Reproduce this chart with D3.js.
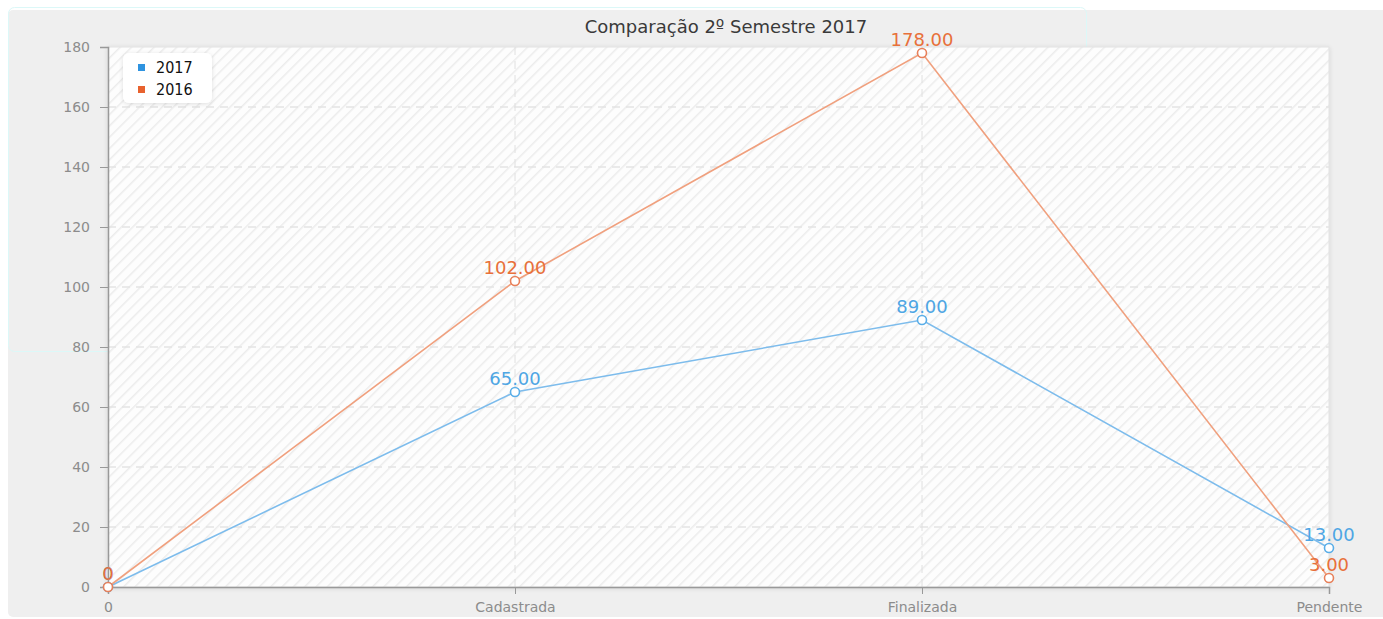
<!DOCTYPE html>
<html>
<head>
<meta charset="utf-8">
<script src="https://cdn.jsdelivr.net/npm/d3@7"></script>
<style>
  body { margin: 0; background: #fff; }
  text { font-family: "DejaVu Sans", sans-serif; }
</style>
</head>
<body>
<div id="chart"></div>
<script>
const categories = ['0', 'Cadastrada', 'Finalizada', 'Pendente'];
const values2017 = [0, 65, 89, 13];
const values2016 = [0, 102, 178, 3];
const yTicks = [0, 20, 40, 60, 80, 100, 120, 140, 160, 180];
const seriesNames = ['2017', '2016'];

const svgWidth = 1383, svgHeight = 619;
const margin = {top: 47, right: 54, bottom: 32, left: 108};
const width = svgWidth - margin.left - margin.right,
      height = svgHeight - margin.top - margin.bottom;

const series = [
  {name: seriesNames[0], values: values2017, line: '#7dbcec', dot: '#5aaee8', label: '#4ea6e4', legend: '#2e93e0'},
  {name: seriesNames[1], values: values2016, line: '#f0a07e', dot: '#e8805a', label: '#e8703a', legend: '#e8622e'}
];

const svg = d3.select('#chart').append('svg')
    .attr('width', svgWidth)
    .attr('height', svgHeight);

const defs = svg.append('defs');
const hatch = defs.append('pattern')
    .attr('id', 'hatch')
    .attr('patternUnits', 'userSpaceOnUse')
    .attr('width', 8).attr('height', 8)
    .attr('patternTransform', 'rotate(45)');
hatch.append('rect').attr('width', 8).attr('height', 8).attr('fill', '#fdfdfd');
hatch.append('line').attr('x1', 0).attr('y1', 0).attr('x2', 0).attr('y2', 8)
    .attr('stroke', '#ececec').attr('stroke-width', 3);

const shadow = defs.append('filter').attr('id', 'shadow')
    .attr('x', '-20%').attr('y', '-20%').attr('width', '140%').attr('height', '140%');
shadow.append('feDropShadow').attr('dx', 0).attr('dy', 1).attr('stdDeviation', 2)
    .attr('flood-color', '#000').attr('flood-opacity', 0.12);

// background panels
svg.append('rect')
    .attr('x', 8).attr('y', 10).attr('width', svgWidth).attr('height', 607)
    .attr('rx', 5).attr('fill', '#efefef');
svg.append('rect')
    .attr('x', 8.5).attr('y', 7.5).attr('width', 1078).attr('height', 344)
    .attr('rx', 6).attr('fill', 'none').attr('stroke', '#dcf8f8');

const g = svg.append('g')
    .attr('transform', `translate(${margin.left}, ${margin.top})`);

const xScale = d3.scalePoint().domain(categories).range([0, width]);
const yScale = d3.scaleLinear().domain([0, 180]).range([height, 0]);

g.append('rect')
    .attr('width', width).attr('height', height)
    .attr('fill', 'url(#hatch)')
    .attr('stroke', '#e2e2e2')
    .attr('filter', 'url(#shadow)');

// grid
g.selectAll('.hgrid')
    .data(yTicks.filter(d => d > 0 && d < 180))
    .enter().append('line')
    .attr('x1', 0).attr('x2', width)
    .attr('y1', d => yScale(d)).attr('y2', d => yScale(d))
    .attr('stroke', '#e4e4e4').attr('stroke-width', 1.5)
    .attr('stroke-dasharray', '8,6');
g.selectAll('.vgrid')
    .data(categories.slice(1, 3))
    .enter().append('line')
    .attr('x1', d => xScale(d)).attr('x2', d => xScale(d))
    .attr('y1', 0).attr('y2', height)
    .attr('stroke', '#e0e0e0').attr('stroke-width', 1)
    .attr('stroke-dasharray', '8,6');

// axes
const yAxis = g.append('g')
    .call(d3.axisLeft(yScale).tickValues(yTicks).tickSize(8).tickPadding(10));
const xAxis = g.append('g')
    .attr('transform', `translate(0, ${height})`)
    .call(d3.axisBottom(xScale).tickSize(7).tickPadding(8));
[yAxis, xAxis].forEach(a => {
  a.select('.domain').attr('stroke', '#999').attr('stroke-width', 1.5);
  a.selectAll('.tick line').attr('stroke', '#999');
  a.selectAll('.tick text')
      .attr('fill', '#8c8c8c')
      .style('font-size', '14px')
      .style('font-family', '"DejaVu Sans", sans-serif');
});

// lines
const line = d3.line()
    .x((d, i) => xScale(categories[i]))
    .y(d => yScale(d));

series.forEach(s => {
  g.append('path')
      .datum(s.values)
      .attr('fill', 'none')
      .attr('stroke', s.line)
      .attr('stroke-width', 1.6)
      .attr('d', line);
});

series.forEach(s => {
  g.selectAll(null)
      .data(s.values)
      .enter().append('circle')
      .attr('cx', (d, i) => xScale(categories[i]))
      .attr('cy', d => yScale(d))
      .attr('r', 4.5)
      .attr('fill', '#fff')
      .attr('stroke', s.dot)
      .attr('stroke-width', 1.6);
});

// value labels (2016 drawn last so it sits on top)
series.forEach(s => {
  g.selectAll(null)
      .data(s.values)
      .enter().append('text')
      .attr('x', (d, i) => xScale(categories[i]))
      .attr('y', d => yScale(d) - 7)
      .attr('text-anchor', 'middle')
      .attr('fill', s.label)
      .style('font-size', '18px')
      .text(d => d === 0 ? '0' : d3.format('.2f')(d));
});

// title
svg.append('text')
    .attr('x', 726).attr('y', 33)
    .attr('text-anchor', 'middle')
    .attr('fill', '#3a3a3a')
    .style('font-size', '18px')
    .text('Comparação 2º Semestre 2017');

// legend
const legend = svg.append('g').attr('transform', 'translate(123, 53)');
legend.append('rect')
    .attr('width', 89).attr('height', 50).attr('rx', 6)
    .attr('fill', '#fff')
    .attr('filter', 'url(#shadow)');
series.forEach((s, i) => {
  legend.append('rect')
      .attr('x', 15).attr('y', 11 + i * 22)
      .attr('width', 7).attr('height', 7)
      .attr('fill', s.legend);
  legend.append('text')
      .attr('x', 33).attr('y', 20 + i * 22)
      .attr('fill', '#111')
      .style('font-size', '16px')
      .style('font-family', '"DejaVu Sans Condensed", "DejaVu Sans", sans-serif')
      .text(s.name);
});
</script>
</body>
</html>
